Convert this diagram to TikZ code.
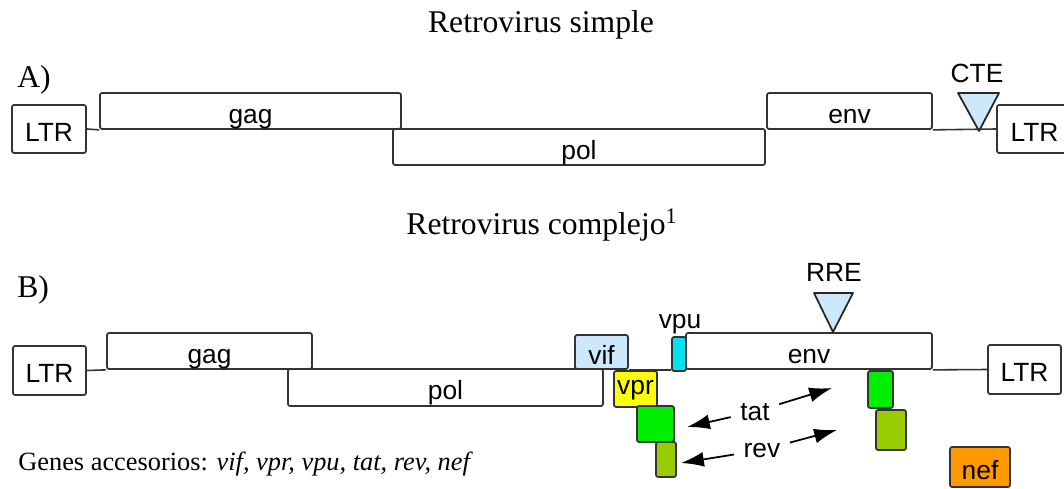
\documentclass[tikz,border=0pt]{standalone}
\usepackage{fontspec}
\setmainfont{Liberation Serif}
\setsansfont{Liberation Sans}
\usetikzlibrary{fit,arrows.meta}
\definecolor{sigblue}{RGB}{204,232,250}
\definecolor{vpucyan}{RGB}{0,228,240}
\definecolor{vpryellow}{RGB}{255,255,0}
\definecolor{tatgreen}{RGB}{0,238,0}
\definecolor{revolive}{RGB}{153,204,0}
\definecolor{neforange}{RGB}{255,153,0}
\tikzset{
  gene/.style={draw=black!80, line width=1pt, rounded corners=1.2pt, inner sep=0pt, fit={#1}},
  genetext/.style={inner sep=0pt, text height=14pt, text depth=0pt},
  backbone/.style={draw=black!80, line width=0.9pt},
  signal/.style={draw=black!85, line width=1pt, fill=sigblue, line join=round},
  pointer/.style={line width=1pt, shorten <=2pt, -{Latex[length=13pt,width=8.5pt]}},
  caption/.style={font=\rmfamily\fontsize{18}{22}\selectfont}
}
\begin{document}
\begin{tikzpicture}[x=0.02cm, y=-0.02cm, font=\sffamily\fontsize{15}{18}\selectfont]
  \useasboundingbox (0,0) rectangle (1064,489);
  % titles
  \node[caption, anchor=base] (titleA) at (541,33) {Retrovirus simple};
  \node[caption, anchor=base] (titleB) at (542,235) {Retrovirus complejo\textsuperscript{1}};
  \node[caption, anchor=base west, inner sep=0pt] (partA) at (17,88) {A)};
  \node[caption, anchor=base west, inner sep=0pt] (partB) at (17,297) {B)};
  % A) simple retrovirus
  \node[gene={(12,105) (86,153)}, label={[genetext]center:LTR}] (ltrA1) {};
  \node[gene={(100,93) (401,129)}, label={[genetext]center:gag}] (gagA) {};
  \node[gene={(393,129) (765,165)}, label={[genetext]center:pol}] (polA) {};
  \node[gene={(767,93) (932,129)}, label={[genetext]center:env}] (envA) {};
  \node[gene={(997,105) (1072,153)}, label={[genetext]center:LTR}] (ltrA2) {};
  \draw[backbone] (ltrA1.east) -- (gagA.south west);
  \draw[backbone] (envA.south east) -- (ltrA2.west);
  \filldraw[signal] (958,93) -- (999,93) -- (979,131) -- cycle;
  \node[anchor=base] (cte) at (977,83) {CTE};
  % B) complex retrovirus
  \node[gene={(13,346) (86,395)}, label={[genetext]center:LTR}] (ltrB1) {};
  \node[gene={(107,333) (312,369)}, label={[genetext]center:gag}] (gagB) {};
  \node[gene={(288,369) (603,406)}, label={[genetext]center:pol}] (polB) {};
  \node[gene={(575,335) (628,369)}, fill=sigblue, label={[genetext]center:vif}] (vif) {};
  \node[gene={(686,333) (932,369)}, label={[genetext]center:env}] (envB) {};
  \node[gene={(988,345) (1061,394)}, label={[genetext]center:LTR}] (ltrB2) {};
  \node[gene={(672,337) (686,371)}, fill=vpucyan] (vpu) {};
  \node[anchor=base] (vpulbl) at (680,328) {vpu};
  \draw[backbone] (ltrB1.east) -- (gagB.south west);
  \draw[backbone] (vif.south east) -- (vpu.south west |- vif.south east);
  \draw[backbone] (envB.south east) -- (ltrB2.west);
  \node[gene={(614,371) (657,407)}, fill=vpryellow,
    label={[genetext, text height=6.8pt]center:vpr}] (vpr) {};
  \node[gene={(637,406) (674,442)}, fill=tatgreen] (tatL) {};
  \node[gene={(656,442) (676,477)}, fill=revolive] (revL) {};
  \node[gene={(868,371) (893,408)}, fill=tatgreen] (tatR) {};
  \node[gene={(876,410) (906,450)}, fill=revolive] (revR) {};
  \node[gene={(950,447) (1010,487)}, fill=neforange, label={[genetext]center:nef}] (nef) {};
  \filldraw[signal] (814,293) -- (853,293) -- (833,332) -- cycle;
  \node[anchor=base] (rre) at (834,282) {RRE};
  % tat / rev exons
  \node[anchor=base] (tat) at (755,420) {tat};
  \node[anchor=base] (rev) at (762,457) {rev};
  \coordinate (tatLtip) at (687,427);
  \coordinate (tatRtip) at (832,388);
  \coordinate (revLtip) at (681,463);
  \coordinate (revRtip) at (837,430);
  \draw[pointer] (tat) -- (tatLtip);
  \draw[pointer] (tat) -- (tatRtip);
  \draw[pointer] (rev) -- (revLtip);
  \draw[pointer] (rev) -- (revRtip);
  \node[anchor=base west, inner sep=0pt, font=\rmfamily\fontsize{15}{18}\selectfont] (accesorios)
    at (18,470) {Genes accesorios: \textit{vif, vpr, vpu, tat, rev, nef}};
\end{tikzpicture}
\end{document}
